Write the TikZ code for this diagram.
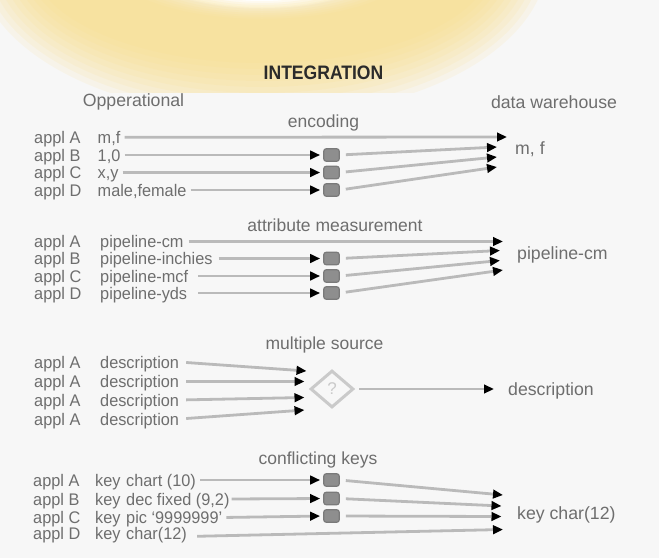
\documentclass[tikz,border=0pt]{standalone}
\usepackage{fontspec}
\setmainfont{Liberation Sans}
\newfontfamily\titlefont[FakeStretch=0.9]{Liberation Sans}
\newfontfamily\rowfont[FakeStretch=0.97]{Liberation Sans}
\usetikzlibrary{arrows.meta,shapes.geometric}
\definecolor{paper}{HTML}{F7F7F7}
\definecolor{txtgray}{HTML}{6E6E6E}
\definecolor{linegray}{HTML}{BABABA}
\definecolor{boxgray}{HTML}{8E8E8E}
\definecolor{boxedge}{HTML}{7A7A7A}
\definecolor{diagray}{HTML}{CACACA}
\definecolor{glowyellow}{HTML}{F9DE84}
\definecolor{titlecol}{HTML}{2B2B2B}
\begin{document}
\begin{tikzpicture}[x=1pt,y=-1pt,
  rowtxt/.style={anchor=west,inner sep=0pt,text=txtgray,text height=12.2pt,text depth=0pt,
    font=\rowfont\fontsize{16.8}{19}\selectfont},
  seclbl/.style={inner sep=0pt,text=txtgray,font=\fontsize{17.5}{20}\selectfont},
  headlbl/.style={inner sep=0pt,text=txtgray,font=\fontsize{17.7}{20}\selectfont},
  outlbl/.style={anchor=west,inner sep=0pt,text=txtgray,text height=12.6pt,text depth=0pt,
    font=\fontsize{17.7}{20}\selectfont},
  flow/.style={draw=linegray,line width=2.8pt,
    -{Triangle[length=10pt,width=8.5pt,color=black]}},
  convbox/.style={draw=boxedge,fill=boxgray,line width=1.2pt,rounded corners=2.5pt,
    minimum width=15.5pt,minimum height=12.5pt,inner sep=0pt},
  qdiamond/.style={diamond,draw=diagray,line width=3pt,inner sep=0pt,
    minimum width=43pt,minimum height=37pt,text=diagray,font=\fontsize{17}{18}\selectfont},
]
% canvas
\fill[paper] (0,0) rectangle (659,558);
\useasboundingbox (0,0) rectangle (659,558);

% soft yellow halo at the top
\begin{scope}
  \clip (0,0) rectangle (659,92);
  \fill[white] (262,-40) ellipse [x radius=125, y radius=48];
  \foreach \k in {0,...,9} {
    \fill[glowyellow, opacity=0.12, even odd rule]
      (262,-40) ellipse [x radius={285-6*\k}, y radius={157-6*\k}]
      (262,-40) ellipse [x radius={103+6*\k}, y radius={41+2*\k}];
  }
\end{scope}

% headings
\node[inner sep=0pt,text=titlecol,font=\titlefont\fontsize{19.5}{22}\selectfont\bfseries]
  (title) at (323.5,73) {INTEGRATION};
\node[headlbl] (hsrc) at (133.5,102) {Opperational};
\node[headlbl] (hdw) at (554,102) {data warehouse};

% ---------- encoding ----------
\node[seclbl] (enc) at (323.5,123) {encoding};
\foreach \r/\y/\v in {A/137.3/{m,f},B/155/{1,0},C/172.5/{x,y},D/190/{male,female}} {
  \node[rowtxt] (e\r) at (34,\y) {appl \r};
  \node[rowtxt] (ev\r) at (97.5,\y) {\v};
}
\node[convbox] (ebB) at (331.5,155) {};
\node[convbox] (ebC) at (331.5,172.5) {};
\node[convbox] (ebD) at (331.5,190) {};
\coordinate (etA) at (507,137);
\coordinate (etB) at (497,147);
\coordinate (etC) at (497,157);
\coordinate (etD) at (497,167);
\node[outlbl] (eout) at (515,148) {m, f};
\draw[flow,shorten <=4pt] (evA.east) -- (etA);
\foreach \r in {B,C,D} {
  \draw[flow,shorten <=4pt,shorten >=3pt] (ev\r.east) -- (eb\r.west);
  \draw[flow,shorten <=6pt] (eb\r.east) -- (et\r);
}

% ---------- attribute measurement ----------
\node[seclbl] (att) at (335,225) {attribute measurement};
\foreach \r/\y/\v in {A/241.5/{pipeline-cm},B/258.5/{pipeline-inchies},C/276/{pipeline-mcf},D/293/{pipeline-yds}} {
  \node[rowtxt] (a\r) at (34,\y) {appl \r};
  \node[rowtxt] (av\r) at (100,\y) {\v};
}
\node[convbox] (abB) at (331.5,258.5) {};
\node[convbox] (abC) at (331.5,276) {};
\node[convbox] (abD) at (331.5,293) {};
\coordinate (atA) at (503,241.5);
\coordinate (atB) at (500,250.5);
\coordinate (atC) at (500,260.5);
\coordinate (atD) at (503,270);
\node[outlbl] (aout) at (517,253) {pipeline-cm};
\draw[flow,shorten <=5pt] (avA.east) -- (atA);
\draw[flow,shorten <=6pt,shorten >=3pt] (avB.east) -- (abB.west);
\draw[flow,shorten <=10pt,shorten >=3pt] (avC.east) -- (abC.west);
\draw[flow,shorten <=11pt,shorten >=3pt] (avD.east) -- (abD.west);
\foreach \r in {B,C,D} {
  \draw[flow,shorten <=6pt] (ab\r.east) -- (at\r);
}

% ---------- multiple source ----------
\node[seclbl] (mul) at (324.5,345) {multiple source};
\foreach \r/\y in {1/362,2/381.5,3/400,4/419} {
  \node[rowtxt] (m\r) at (34,\y) {appl A};
  \node[rowtxt] (mv\r) at (100,\y) {description};
}
\node[qdiamond] (dia) at (332,389) {?};
\coordinate (mt1) at (306.5,371);
\coordinate (mt2) at (304.5,381.5);
\coordinate (mt3) at (304.5,397.5);
\coordinate (mt4) at (304.5,410);
\node[outlbl] (mout) at (508,389) {description};
\foreach \r in {1,2,3,4} {
  \draw[flow,shorten <=7pt] (mv\r.east) -- (mt\r);
}
\draw[flow,shorten <=4pt,shorten >=14pt] (dia.east) -- (mout.west);

% ---------- conflicting keys ----------
\node[seclbl] (con) at (318,460) {conflicting keys};
\foreach \r/\y/\v in {A/480/{chart (10)},B/499/{dec fixed (9,2)},C/517.5/{pic ‘9999999’},D/533/{char(12)}} {
  \node[rowtxt] (c\r) at (33,\y) {appl \r};
  \node[rowtxt] (ck\r) at (95,\y) {key};
  \node[rowtxt] (cv\r) at (126,\y) {\v};
}
\node[convbox] (cbA) at (331.5,480) {};
\node[convbox] (cbB) at (331.5,498.5) {};
\node[convbox] (cbC) at (331.5,516) {};
\coordinate (ctA) at (503,495);
\coordinate (ctB) at (501.5,506);
\coordinate (ctC) at (501.5,516.5);
\coordinate (ctD) at (503,529.5);
\node[outlbl] (cout) at (517,513) {key char(12)};
\draw[flow,shorten <=4pt,shorten >=3pt] (cvA.east) -- (cbA.west);
\draw[flow,shorten <=2pt,shorten >=3pt] (cvB.east) -- (cbB.west);
\draw[flow,shorten <=4pt,shorten >=3pt] (cvC.east) -- (cbC.west);
\draw[flow,shorten <=10pt] ([yshift=-3.5pt]cvD.east) -- (ctD);
\foreach \r in {A,B,C} {
  \draw[flow,shorten <=6pt] (cb\r.east) -- (ct\r);
}
\end{tikzpicture}
\end{document}
